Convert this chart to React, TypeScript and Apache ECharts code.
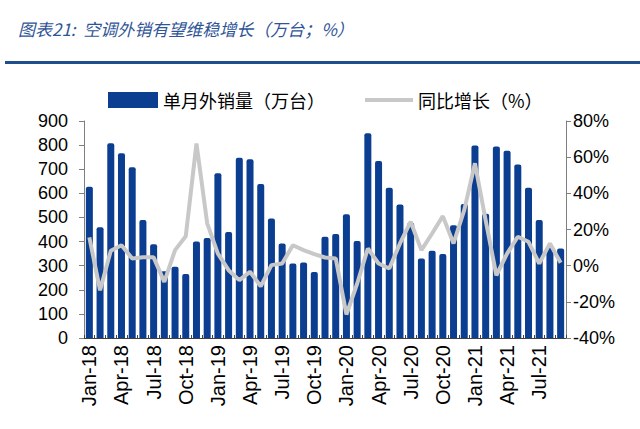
import React, { useEffect, useRef } from "react";
import * as echarts from "echarts";

const months = [
  "Jan-18", "Feb-18", "Mar-18", "Apr-18", "May-18", "Jun-18", "Jul-18", "Aug-18", "Sep-18", "Oct-18", "Nov-18", "Dec-18",
  "Jan-19", "Feb-19", "Mar-19", "Apr-19", "May-19", "Jun-19", "Jul-19", "Aug-19", "Sep-19", "Oct-19", "Nov-19", "Dec-19",
  "Jan-20", "Feb-20", "Mar-20", "Apr-20", "May-20", "Jun-20", "Jul-20", "Aug-20", "Sep-20", "Oct-20", "Nov-20", "Dec-20",
  "Jan-21", "Feb-21", "Mar-21", "Apr-21", "May-21", "Jun-21", "Jul-21", "Aug-21", "Sep-21",
];

const exportVolume = [
  627, 459, 808, 766, 708, 489, 389, 277, 295, 265, 400, 415,
  683, 440, 748, 741, 639, 496, 392, 309, 313, 274, 420, 431,
  513, 402, 849, 734, 623, 554, 478, 330, 362, 348, 468, 556,
  798, 515, 794, 777, 720, 623, 489, 375, 371,
];

const yoyGrowth = [
  15.6, -13.6, 8.2, 11.3, 4.0, 4.6, 4.6, -9.0, 8.6, 16.3, 67.6, 23.4,
  6.7, -2.5, -8.0, -3.4, -11.4, 0.3, 1.2, 11.3, 8.6, 6.4, 4.5, 4.0,
  -27.0, -10.0, 9.5, 1.2, -1.6, 12.3, 24.3, 8.6, 17.8, 27.4, 12.3, 30.7,
  56.6, 25.0, -5.3, 6.7, 16.0, 13.2, 1.2, 12.3, 1.6,
];

const barName = "单月外销量（万台）";
const lineName = "同比增长（%）";
const titleText = "图表21:  空调外销有望维稳增长（万台；%）";

const BAR_COLOR = "#0b3d91";
const LINE_COLOR = "#c8c8c8";
const AXIS_COLOR = "#7f7f7f";
const FONT = "'Liberation Sans', Arial, 'Noto Sans CJK SC', sans-serif";
const CJK = "'Noto Sans CJK SC', sans-serif";

export default function App() {
  const ref = useRef<HTMLDivElement>(null);

  useEffect(() => {
    if (!ref.current) return;
    const chart = echarts.init(ref.current, null, { renderer: "svg" });
    chart.setOption({
      animation: false,
      backgroundColor: "#ffffff",
      graphic: [
        {
          type: "text",
          left: 18,
          top: 20,
          style: {
            text: titleText,
            fill: "#2f5597",
            font: `italic 17px ${CJK}`,
          },
        },
        {
          type: "rect",
          shape: { x: 5, y: 61, width: 635, height: 3 },
          style: { fill: "#1f4e8c" },
        },
      ],
      legend: [
        {
          left: 103,
          top: 86,
          itemWidth: 50,
          itemHeight: 16,
          data: [{ name: barName, icon: "rect" }],
          textStyle: { fontSize: 18, color: "#000", fontFamily: CJK },
        },
        {
          left: 360,
          top: 86,
          itemWidth: 48,
          itemHeight: 4,
          data: [{ name: lineName, icon: "rect" }],
          textStyle: { fontSize: 18, color: "#000", fontFamily: CJK },
        },
      ],
      grid: { left: 84, right: 74, top: 121, bottom: 91 },
      xAxis: {
        type: "category",
        data: months,
        axisLine: { lineStyle: { color: "#404040" } },
        axisTick: { show: true, inside: true, length: 3, interval: 0, lineStyle: { color: "#404040" } },
        axisLabel: {
          interval: 2,
          rotate: 90,
          fontSize: 20,
          color: "#000",
          fontFamily: FONT,
          margin: 7,
        },
      },
      yAxis: [
        {
          type: "value",
          min: 0,
          max: 900,
          interval: 100,
          splitLine: { show: false },
          axisLine: { show: true, lineStyle: { color: AXIS_COLOR } },
          axisTick: { show: true, length: 5, lineStyle: { color: AXIS_COLOR } },
          axisLabel: { fontSize: 18, color: "#000", fontFamily: FONT, margin: 16 },
        },
        {
          type: "value",
          min: -40,
          max: 80,
          interval: 20,
          splitLine: { show: false },
          axisLine: { show: true, lineStyle: { color: AXIS_COLOR } },
          axisTick: { show: true, length: 5, lineStyle: { color: AXIS_COLOR } },
          axisLabel: {
            fontSize: 18,
            color: "#000",
            fontFamily: FONT,
            margin: 7,
            formatter: (v: number) => `${v}%`,
          },
        },
      ],
      series: [
        {
          name: barName,
          type: "bar",
          yAxisIndex: 0,
          data: exportVolume,
          barWidth: 7,
          itemStyle: { color: BAR_COLOR, borderRadius: [2, 2, 0, 0] },
        },
        {
          name: lineName,
          type: "line",
          yAxisIndex: 1,
          data: yoyGrowth,
          symbol: "none",
          lineStyle: { color: LINE_COLOR, width: 4 },
          itemStyle: { color: LINE_COLOR },
        },
      ],
    });
    return () => chart.dispose();
  }, []);

  return (
    <div
      ref={ref}
      style={{ position: "fixed", left: 0, top: 0, width: 640, height: 429, background: "#fff" }}
    />
  );
}
